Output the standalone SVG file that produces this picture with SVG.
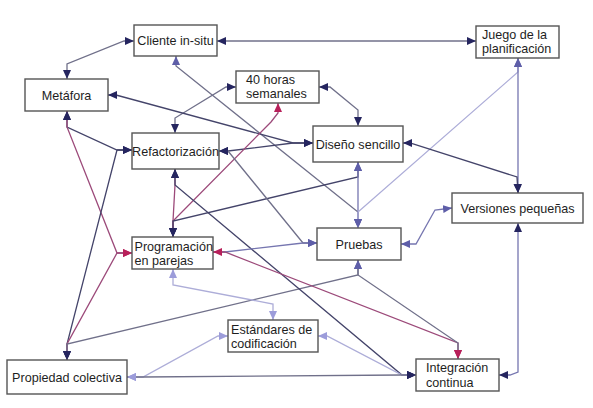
<svg xmlns="http://www.w3.org/2000/svg" width="593" height="408" viewBox="0 0 593 408">
<style>
.box{fill:#fff;stroke:#555;stroke-width:1.4}
.t{font-family:"Liberation Sans",Arial,sans-serif;font-size:12.6px;fill:#1e1e1e}
.c{text-anchor:middle}
.e{fill:none;stroke-width:1.3}
.g{stroke:#70708a}
.d{stroke:#44446a}
.r{stroke:#9c4a7a}
.s{stroke:#7676b0}
.l{stroke:#adadd8}
</style>
<defs>
<marker id="an" viewBox="0 0 9 8" refX="9" refY="4" markerWidth="9" markerHeight="8" markerUnits="userSpaceOnUse" orient="auto-start-reverse"><path d="M0,0 L9,4 L0,8 z" fill="#25255f"/></marker>
<marker id="as" viewBox="0 0 9 8" refX="9" refY="4" markerWidth="9" markerHeight="8" markerUnits="userSpaceOnUse" orient="auto-start-reverse"><path d="M0,0 L9,4 L0,8 z" fill="#5e5ea8"/></marker>
<marker id="al" viewBox="0 0 9 8" refX="9" refY="4" markerWidth="9" markerHeight="8" markerUnits="userSpaceOnUse" orient="auto-start-reverse"><path d="M0,0 L9,4 L0,8 z" fill="#9c9cda"/></marker>
<marker id="ar" viewBox="0 0 9 8" refX="9" refY="4" markerWidth="9" markerHeight="8" markerUnits="userSpaceOnUse" orient="auto-start-reverse"><path d="M0,0 L9,4 L0,8 z" fill="#b8205a"/></marker>
</defs>
<g id="connectors">
<polyline class="e g" points="217,41 476,41" marker-start="url(#an)" marker-end="url(#an)"/>
<polyline class="e g" points="134,41 124,41 67,64 67,79" marker-start="url(#an)" marker-end="url(#an)"/>
<polyline class="e g" points="176,56 176,66 358,212 358,228" marker-start="url(#as)" marker-end="url(#as)"/>
<polyline class="e g" points="236,87 226,87 175,118 175,133" marker-start="url(#an)" marker-end="url(#an)"/>
<polyline class="e g" points="319,87 330,87 358,110 358,126" marker-start="url(#an)" marker-end="url(#an)"/>
<polyline class="e d" points="108,95 116,95 293,143 313,143" marker-start="url(#an)" marker-end="url(#an)"/>
<polyline class="e d" points="219,151 228,151 293,143 313,143" marker-start="url(#an)" marker-end="url(#an)"/>
<polyline class="e d" points="67,111 67,127 117,150 132,150" marker-start="url(#an)" marker-end="url(#an)"/>
<polyline class="e r" points="67,111 67,127 117,253 132,253" marker-start="url(#an)" marker-end="url(#ar)"/>
<polyline class="e d" points="132,150 117,150 67,344 67,360" marker-start="url(#an)" marker-end="url(#an)"/>
<polyline class="e r" points="132,253 117,253 67,344 67,360" marker-start="url(#ar)" marker-end="url(#an)"/>
<polyline class="e g" points="67,360 67,344 358,275 358,260" marker-start="url(#an)" marker-end="url(#as)"/>
<polyline class="e r" points="175,169 175,185 173,221 173,237" marker-start="url(#an)" marker-end="url(#an)"/>
<polyline class="e r" points="173,237 173,221 271,122 278,113 278,103" marker-start="url(#an)" marker-end="url(#ar)"/>
<polyline class="e d" points="173,237 173,221 358,177 358,162" marker-start="url(#an)" marker-end="url(#as)"/>
<polyline class="e g" points="219,151 228,151 303,243 317,243" marker-start="url(#an)" marker-end="url(#as)"/>
<polyline class="e d" points="175,169 175,185 402,375 416,375" marker-start="url(#an)" marker-end="url(#an)"/>
<polyline class="e s" points="213,252 225,252 303,243 317,243" marker-end="url(#as)"/>
<polyline class="e r" points="213,252 225,252 458,343 458,359" marker-start="url(#ar)" marker-end="url(#ar)"/>
<polyline class="e g" points="358,260 358,275 458,343 458,359" marker-start="url(#as)" marker-end="url(#ar)"/>
<polyline class="e s" points="358,162 358,212 358,228" marker-start="url(#as)" marker-end="url(#as)"/>
<polyline class="e l" points="518,58 518,72 358,212 358,228" marker-start="url(#as)" marker-end="url(#as)"/>
<polyline class="e s" points="518,58 518,193" marker-start="url(#as)" marker-end="url(#an)"/>
<polyline class="e d" points="403,143 410,143 517,177 518,193" marker-start="url(#an)" marker-end="url(#an)"/>
<polyline class="e s" points="401,244 416,244 435,210 452,208" marker-start="url(#as)" marker-end="url(#as)"/>
<polyline class="e s" points="518,223 518,372 510,375 499,375" marker-start="url(#an)" marker-end="url(#an)"/>
<polyline class="e l" points="173,269 173,285 273,304 273,320" marker-start="url(#al)" marker-end="url(#al)"/>
<polyline class="e l" points="228,336 218,336 143,377 127,377" marker-start="url(#al)" marker-end="url(#al)"/>
<polyline class="e l" points="318,336 327,336 402,375 416,375" marker-start="url(#al)" marker-end="url(#an)"/>
<polyline class="e g" points="127,377 143,377 402,375 416,375" marker-start="url(#al)" marker-end="url(#an)"/>
</g>
<g id="cliente"><rect class="box" x="134" y="25" width="83" height="31"/><text class="t c" x="175.5" y="45">Cliente in-situ</text></g>
<g id="metafora"><rect class="box" x="25" y="79" width="83" height="32"/><text class="t c" x="66.5" y="99.5">Metáfora</text></g>
<g id="horas"><rect class="box" x="236" y="71" width="83" height="32"/><text class="t" x="246" y="84">40 horas</text><text class="t" x="246" y="98">semanales</text></g>
<g id="juego"><rect class="box" x="476" y="26" width="83" height="32"/><text class="t" x="482" y="39">Juego de la</text><text class="t" x="482" y="53">planificación</text></g>
<g id="refactorizacion"><rect class="box" x="132" y="133" width="87" height="36"/><text class="t c" x="175.5" y="155.5">Refactorización</text></g>
<g id="diseno"><rect class="box" x="313" y="126" width="90" height="36"/><text class="t c" x="358" y="148.5">Diseño sencillo</text></g>
<g id="versiones"><rect class="box" x="452" y="193" width="131" height="30"/><text class="t c" x="517.5" y="212.5">Versiones pequeñas</text></g>
<g id="pruebas"><rect class="box" x="317" y="228" width="84" height="32"/><text class="t c" x="359" y="248.5">Pruebas</text></g>
<g id="programacion"><rect class="box" x="132" y="237" width="81" height="32"/><text class="t" x="134.5" y="251">Programación</text><text class="t" x="134.5" y="265">en parejas</text></g>
<g id="estandares"><rect class="box" x="228" y="320" width="90" height="32"/><text class="t" x="231" y="334">Estándares de</text><text class="t" x="231" y="348">codificación</text></g>
<g id="propiedad"><rect class="box" x="7" y="360" width="120" height="34"/><text class="t c" x="67" y="381.5">Propiedad colectiva</text></g>
<g id="integracion"><rect class="box" x="416" y="359" width="83" height="32"/><text class="t" x="426" y="372">Integración</text><text class="t" x="426" y="387">continua</text></g>
</svg>
